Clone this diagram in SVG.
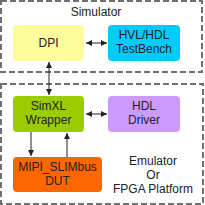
<svg xmlns="http://www.w3.org/2000/svg" width="205" height="205" viewBox="0 0 205 205">
<style>
.frame{fill:none;stroke:#707070;stroke-width:2;stroke-dasharray:6,3}
.t{font-family:"Liberation Sans",Arial,sans-serif;font-size:12px;fill:#222;text-anchor:middle}
.c{stroke:#222;stroke-width:1;fill:none}
</style>
<defs>
<marker id="a" viewBox="0 0 10 10" refX="10" refY="5" markerWidth="6" markerHeight="6" orient="auto-start-reverse" markerUnits="userSpaceOnUse">
<path d="M0,0L10,5L0,10z" fill="#222"/>
</marker>
</defs>
<rect class="frame" x="1" y="1" width="201" height="71"/>
<rect class="frame" x="1" y="84" width="202" height="120"/>
<text class="t" x="96" y="16">Simulator</text>
<g id="dpi"><rect x="13" y="25" width="71" height="36" rx="4" fill="#fcfc9c"/><text class="t" x="48.5" y="47">DPI</text></g>
<g id="hvl"><rect x="108" y="25" width="72" height="36" rx="4" fill="#00ccfb"/><text class="t" x="144" y="39">HVL/HDL</text><text class="t" x="144" y="53">TestBench</text></g>
<g id="simxl"><rect x="13" y="96" width="71" height="36" rx="4" fill="#9acc00"/><text class="t" x="48.5" y="110">SimXL</text><text class="t" x="48.5" y="124">Wrapper</text></g>
<g id="hdl"><rect x="108" y="96" width="72" height="36" rx="4" fill="#cc9afc"/><text class="t" x="144" y="110">HDL</text><text class="t" x="144" y="124">Driver</text></g>
<g id="dut"><rect x="13" y="157" width="89" height="35" rx="4" fill="#ff6600"/><text class="t" x="57.5" y="171">MIPI_SLIMbus</text><text class="t" x="57.5" y="185">DUT</text></g>
<g id="emu"><text class="t" x="153" y="165">Emulator</text><text class="t" x="153" y="179">Or</text><text class="t" x="153" y="193">FPGA Platform</text></g>
<g id="connectors">
<line class="c" x1="49" y1="62" x2="49" y2="95" marker-start="url(#a)" marker-end="url(#a)"/>
<line class="c" x1="86" y1="43" x2="107" y2="43" marker-start="url(#a)" marker-end="url(#a)"/>
<line class="c" x1="86" y1="114" x2="107" y2="114" marker-start="url(#a)" marker-end="url(#a)"/>
<line class="c" x1="31" y1="132" x2="31" y2="156" marker-end="url(#a)"/>
<line class="c" x1="67" y1="157" x2="67" y2="133" marker-end="url(#a)"/>
</g>
</svg>
